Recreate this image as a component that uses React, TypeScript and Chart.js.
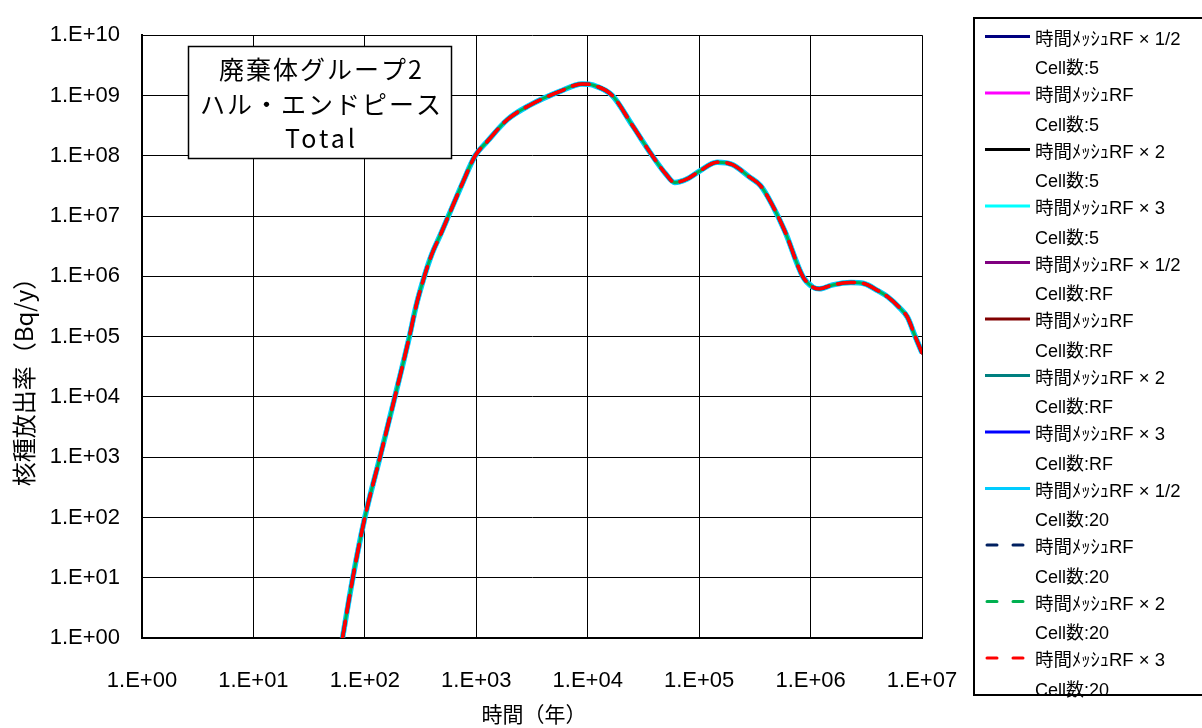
import React, { useEffect, useRef } from 'react';
import { Chart, registerables } from 'chart.js';

Chart.register(...registerables);

// ---- data ----
const timeYears = [
  63, 78, 100, 138, 186, 251, 288, 339, 398, 479,
  562, 741, 977, 1259, 1905, 3020, 5623, 8913, 11220, 16600,
  25120, 38020, 50120, 60260, 79430, 1.0e5, 1.45e5, 2.0e5, 2.8e5, 3.55e5,
  4.47e5, 5.9e5, 8.5e5, 1.05e6, 1.2e6, 1.58e6, 2.3e6, 3.0e6, 4.0e6, 4.9e6,
  6.3e6, 7.4e6, 8.7e6, 1.0e7,
];
const releaseRate = [
  1.0, 10, 100, 1.07e3, 1.0e4, 1.0e5, 3.2e5, 9.5e5, 2.3e6, 5.0e6,
  1.0e7, 3.3e7, 1.0e8, 1.74e8, 4.0e8, 6.9e8, 1.17e9, 1.55e9, 1.48e9, 1.0e9,
  3.2e8, 1.0e8, 5.0e7, 3.6e7, 4.2e7, 5.5e7, 7.8e7, 7.1e7, 4.5e7, 3.2e7,
  1.6e7, 5.5e6, 1.0e6, 6.6e5, 6.2e5, 7.2e5, 7.9e5, 7.6e5, 5.8e5, 4.6e5,
  3.0e5, 2.1e5, 1.0e5, 5.4e4,
];

const seriesNames = [
  ['時間ﾒｯｼｭRF × 1/2', 'Cell数:5'],
  ['時間ﾒｯｼｭRF', 'Cell数:5'],
  ['時間ﾒｯｼｭRF × 2', 'Cell数:5'],
  ['時間ﾒｯｼｭRF × 3', 'Cell数:5'],
  ['時間ﾒｯｼｭRF × 1/2', 'Cell数:RF'],
  ['時間ﾒｯｼｭRF', 'Cell数:RF'],
  ['時間ﾒｯｼｭRF × 2', 'Cell数:RF'],
  ['時間ﾒｯｼｭRF × 3', 'Cell数:RF'],
  ['時間ﾒｯｼｭRF × 1/2', 'Cell数:20'],
  ['時間ﾒｯｼｭRF', 'Cell数:20'],
  ['時間ﾒｯｼｭRF × 2', 'Cell数:20'],
  ['時間ﾒｯｼｭRF × 3', 'Cell数:20'],
];
const seriesColors = [
  '#000080', '#FF00FF', '#000000', '#00FFFF',
  '#800080', '#800000', '#008080', '#0000FF',
  '#00CCFF', '#002060', '#00B050', '#FF0000',
];
const seriesDashed = [false, false, false, false, false, false, false, false, false, true, true, true];

const xTickValues = [1, 1e1, 1e2, 1e3, 1e4, 1e5, 1e6, 1e7];
const xTickLabels = ['1.E+00', '1.E+01', '1.E+02', '1.E+03', '1.E+04', '1.E+05', '1.E+06', '1.E+07'];
const yTickValues = [1, 1e1, 1e2, 1e3, 1e4, 1e5, 1e6, 1e7, 1e8, 1e9, 1e10];
const yTickLabels = ['1.E+00', '1.E+01', '1.E+02', '1.E+03', '1.E+04', '1.E+05', '1.E+06', '1.E+07', '1.E+08', '1.E+09', '1.E+10'];

const boxLines = ['廃棄体グループ2', 'ハル・エンドピース', 'Total'];
const xTitle = '時間（年）';
const yTitle = '核種放出率（Bq/y）';

const CJK = '"Noto Sans CJK JP", "Liberation Sans", sans-serif';
const LAT = '"Liberation Sans", Arial, "Noto Sans CJK JP", sans-serif';

const decorPlugin = {
  id: 'decor',
  afterDraw(chart: any) {
    const ctx = chart.ctx as CanvasRenderingContext2D;
    const area = chart.chartArea;
    ctx.save();

    // annotation box
    const bx = 188, by = 46, bw = 263, bh = 112;
    ctx.fillStyle = '#fff';
    ctx.fillRect(bx, by, bw, bh);
    ctx.strokeStyle = '#000';
    ctx.lineWidth = 1.5;
    ctx.strokeRect(bx + 0.5, by + 0.5, bw, bh);
    ctx.fillStyle = '#000';
    ctx.font = `25px ${CJK}`;
    ctx.textAlign = 'center';
    ctx.textBaseline = 'middle';
    (ctx as any).letterSpacing = '2px';
    boxLines.forEach((t, i) => {
      const y = [69, 104, 138][i];
      if (i === 2) (ctx as any).letterSpacing = '3px';
      ctx.fillText(t, bx + bw / 2 + 2, y);
    });
    (ctx as any).letterSpacing = '0px';

    // axis titles
    ctx.font = `21px ${CJK}`;
    ctx.fillText(xTitle, (area.left + area.right) / 2 + 2, 714);
    ctx.save();
    ctx.translate(24, 376);
    ctx.rotate(-Math.PI / 2);
    ctx.font = `24px ${CJK}`;
    ctx.fillText(yTitle, 0, 0);
    ctx.restore();

    // legend
    const lx = 974, ly = 18, lw = 240, lh = 677;
    ctx.strokeStyle = '#000';
    ctx.lineWidth = 2;
    ctx.strokeRect(lx, ly, lw, lh);
    ctx.textAlign = 'left';
    seriesNames.forEach((name, i) => {
      const L = 36.5 + i * 56.5;
      ctx.save();
      ctx.strokeStyle = seriesColors[i];
      ctx.lineWidth = 3;
      if (seriesDashed[i]) {
        ctx.lineCap = 'round';
        ctx.setLineDash([10, 16]);
        ctx.beginPath();
        ctx.moveTo(987, L);
        ctx.lineTo(1030, L);
        ctx.stroke();
      } else {
        ctx.lineCap = 'butt';
        ctx.beginPath();
        ctx.moveTo(985, L);
        ctx.lineTo(1030, L);
        ctx.stroke();
      }
      ctx.restore();
      ctx.fillStyle = '#000';
      ctx.font = `18.5px ${LAT}`;
      ctx.fillText(name[0], 1035, L + 3);
      ctx.font = `18px ${LAT}`;
      ctx.fillText(name[1], 1035, L + 33);
    });

    ctx.restore();
  },
};

export default function App() {
  const ref = useRef<HTMLCanvasElement | null>(null);

  useEffect(() => {
    if (!ref.current) return;
    const points = timeYears.map((x, i) => ({ x, y: releaseRate[i] }));
    const datasets = seriesNames.map((name, i) => {
      const dashed = seriesDashed[i];
      const color = seriesColors[i];
      let width = 2.5;
      if (color === '#00CCFF') width = 5.5;
      if (color === '#0000FF') width = 3.5;
      if (dashed) width = 3.5;
      if (color === '#00B050') width = 3;
      return {
        label: name.join(' '),
        data: points,
        borderColor: color,
        backgroundColor: color,
        borderWidth: width,
        borderDash: dashed ? [17, 9] : [],
        borderDashOffset: color === '#00B050' ? 9 : 0,
        borderCapStyle: dashed ? 'round' : 'butt',
        pointRadius: 0,
        fill: false,
        cubicInterpolationMode: 'monotone',
        order: seriesNames.length - i,
      };
    });

    const chart = new Chart(ref.current, {
      type: 'line',
      data: { datasets: datasets as any },
      options: {
        responsive: false,
        animation: false,
        devicePixelRatio: 1,
        layout: { padding: { top: 18, right: 280, bottom: 0, left: 0 } },
        plugins: {
          legend: { display: false },
          tooltip: { enabled: false },
          title: { display: false },
        },
        scales: {
          x: {
            type: 'logarithmic',
            min: 1,
            max: 1e7,
            afterBuildTicks: (scale: any) => {
              scale.ticks = xTickValues.map((v) => ({ value: v }));
            },
            afterFit: (scale: any) => {
              scale.height = 90;
            },
            ticks: {
              autoSkip: false,
              maxRotation: 0,
              padding: 30,
              color: '#000',
              font: { family: LAT, size: 22 },
              callback: (v: any) => {
                const idx = xTickValues.indexOf(Number(v));
                return idx >= 0 ? xTickLabels[idx] : '';
              },
            },
            grid: { color: '#000', lineWidth: 1, drawTicks: false },
            border: { display: true, color: '#000', width: 2 },
          },
          y: {
            type: 'logarithmic',
            min: 1,
            max: 1e10,
            afterBuildTicks: (scale: any) => {
              scale.ticks = yTickValues.map((v) => ({ value: v }));
            },
            afterFit: (scale: any) => {
              scale.width = 142;
            },
            ticks: {
              autoSkip: false,
              padding: 22,
              color: '#000',
              font: { family: LAT, size: 22 },
              callback: (v: any) => {
                const idx = yTickValues.indexOf(Number(v));
                return idx >= 0 ? yTickLabels[idx] : '';
              },
            },
            grid: { color: '#000', lineWidth: 1, drawTicks: false },
            border: { display: true, color: '#000', width: 2 },
          },
        },
      } as any,
      plugins: [decorPlugin],
    });
    return () => chart.destroy();
  }, []);

  return (
    <div style={{ position: 'fixed', left: 0, top: 0, width: 1202, height: 728, background: '#fff' }}>
      <canvas ref={ref} width={1202} height={728} style={{ display: 'block', width: 1202, height: 728 }} />
    </div>
  );
}
